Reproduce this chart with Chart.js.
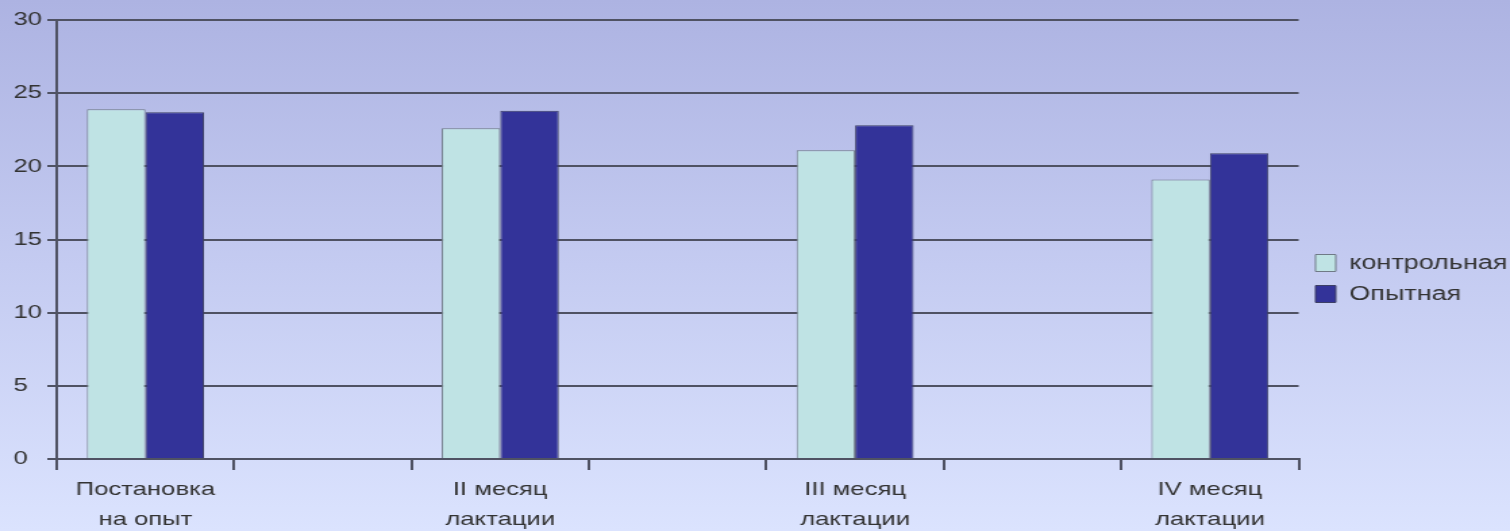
<!DOCTYPE html>
<html>
<head>
<meta charset="utf-8">
<script src="https://cdn.jsdelivr.net/npm/chart.js@4"></script>
<style>
  html, body { margin:0; padding:0; width:1510px; height:531px; overflow:hidden;
    background: linear-gradient(180deg, #adb3e2 0%, #c4cbf1 50%, #dbe3fe 100%); }
  #wrap { position:absolute; left:0; top:0; width:1118px; height:531px;
    transform: scaleX(1.3506); transform-origin: 0 0; }
</style>
</head>
<body>
<div id="wrap"><canvas id="c" width="1118" height="531"></canvas></div>
<script>
const categories = [["Постановка","на опыт"],["II месяц","лактации"],["III месяц","лактации"],["IV месяц","лактации"]];
const controlValues = [23.9, 22.6, 21.1, 19.1];
const experimentalValues = [23.7, 23.8, 22.8, 20.9];
const seriesNames = ["контрольная", "Опытная"];
const yMin = 0, yMax = 30, yStep = 5;

// categories are separated by empty slots on the axis
const labels = [], ctrl = [], expt = [];
categories.forEach((c, i) => {
  labels.push(c); ctrl.push(controlValues[i]); expt.push(experimentalValues[i]);
  if (i < categories.length - 1) { labels.push(""); ctrl.push(null); expt.push(null); }
});

const lineColor = '#4f5263';
const textColor = '#333333';
const family = '"Liberation Sans", Arial, sans-serif';
const xFont = { family: family, size: 19, lineHeight: 1.58 };
const yFont = { family: family, size: 19, lineHeight: 1.2 };
const legendFont = { family: family, size: 20, lineHeight: 1.2 };

const legendNudge = {
  id: 'legendNudge',
  afterLayout(chart) {
    const l = chart.legend;
    if (!l || !l.columnSizes || !l.columnSizes.length) return;
    const pad = l.options.labels.padding;
    const dx = 974 - (l.left + pad);
    l.left += dx; l.right += dx;
    const cy = (l.top + pad + l.bottom - l.columnSizes[0].height) / 2;
    const dy = 253 - cy;
    l.top += dy; l.bottom += dy;
  }
};

new Chart(document.getElementById('c'), {
  type: 'bar',
  data: {
    labels: labels,
    datasets: [
      { label: seriesNames[0], data: ctrl, backgroundColor: '#bfe3e4', borderColor: '#6f7a86', borderWidth: 1 },
      { label: seriesNames[1], data: expt, backgroundColor: '#333399', borderColor: '#3c3f66', borderWidth: 1 }
    ]
  },
  plugins: [legendNudge],
  options: {
    responsive: false,
    animation: false,
    categoryPercentage: 0.66,
    barPercentage: 1,
    layout: { padding: { top: 20, bottom: 0, left: 10, right: 0 } },
    plugins: {
      legend: {
        position: 'right',
        align: 'center',
        maxWidth: 156.5,
        labels: { color: textColor, font: legendFont, boxWidth: 15, boxHeight: 17, padding: 11 }
      },
      tooltip: { enabled: false }
    },
    scales: {
      x: {
        offset: true,
        grid: { offset: true, drawOnChartArea: false, drawTicks: true, tickLength: 11, color: lineColor, lineWidth: 2 },
        border: { display: true, color: lineColor, width: 2 },
        ticks: { color: textColor, font: xFont, padding: 5, autoSkip: false, maxRotation: 0, minRotation: 0 },
        afterFit: (s) => { s.height = 72; }
      },
      y: {
        min: yMin, max: yMax,
        grid: { color: lineColor, lineWidth: 2, tickLength: 7, drawTicks: true },
        border: { display: true, color: lineColor, width: 2 },
        ticks: { stepSize: yStep, color: textColor, font: yFont, padding: 4, crossAlign: 'far' },
        afterFit: (s) => { s.width = 32; }
      }
    }
  }
});
</script>
</body>
</html>
